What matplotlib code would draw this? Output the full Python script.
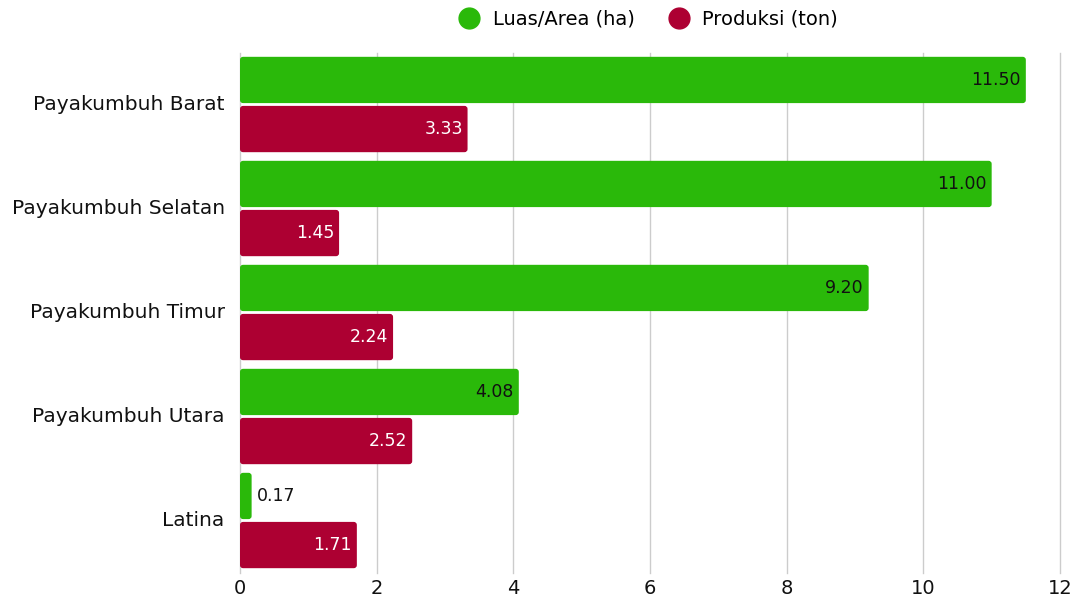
import numpy as np
import matplotlib
matplotlib.use("Agg")
import matplotlib.pyplot as plt
from matplotlib.lines import Line2D
from matplotlib.patches import FancyBboxPatch

# data
kecamatan = ["Payakumbuh Barat", "Payakumbuh Selatan", "Payakumbuh Timur",
             "Payakumbuh Utara", "Latina"]
luas = [11.50, 11.00, 9.20, 4.08, 0.17]
produksi = [3.33, 1.45, 2.24, 2.52, 1.71]
series_names = ["Luas/Area (ha)", "Produksi (ton)"]
xticks = [0, 2, 4, 6, 8, 10, 12]

green = "#2ab90a"
red = "#ad0032"

plt.rcParams["font.family"] = ["DejaVu Sans"]

fig = plt.figure(figsize=(10.73, 5.97), dpi=100)
ax = fig.add_axes([240 / 1073, 1 - 572.5 / 597, 820 / 1073, 520 / 597])

y = np.arange(len(kecamatan))
h = 0.445
off = 0.236

b1 = ax.barh(y - off, luas, height=h, color=green, zorder=3)
b2 = ax.barh(y + off, produksi, height=h, color=red, zorder=3)

# swap the square bars for slightly rounded ones
for bars, c in ((b1, green), (b2, red)):
    for bar in bars:
        bar.set_visible(False)
        ax.add_patch(FancyBboxPatch((bar.get_x(), bar.get_y()), bar.get_width(), bar.get_height(),
                                    boxstyle="round,pad=0,rounding_size=0.045",
                                    mutation_aspect=0.65, color=c, lw=0, zorder=3))

for bar, v in zip(b1, luas):
    if v > 1:
        ax.text(v - 0.07, bar.get_y() + bar.get_height() / 2, f"{v:.2f}",
                ha="right", va="center", fontsize=12.5, color="#111111", zorder=4)
    else:
        ax.text(v + 0.07, bar.get_y() + bar.get_height() / 2, f"{v:.2f}",
                ha="left", va="center", fontsize=12.5, color="#111111", zorder=4)
for bar, v in zip(b2, produksi):
    ax.text(v - 0.07, bar.get_y() + bar.get_height() / 2, f"{v:.2f}",
            ha="right", va="center", fontsize=12.5, color="white", zorder=4)

ax.set_xlim(0, 12)
ax.set_ylim(4.5, -0.5)
ax.set_xticks(xticks)
ax.set_yticks(y - 0.02)
ax.set_yticklabels(kecamatan)
ax.tick_params(axis="both", length=0, colors="#111111")
ax.tick_params(axis="y", pad=11, labelsize=14.5)
ax.tick_params(axis="x", pad=5, labelsize=14)
ax.grid(axis="x", color="#cccccc", linewidth=1, zorder=0)
for gl in ax.get_xgridlines():
    gl.set_clip_on(False)
for s in ax.spines.values():
    s.set_visible(False)

handles = [Line2D([], [], marker="o", linestyle="", markersize=15, color=c)
           for c in (green, red)]
fig.legend(handles, series_names, loc="center", bbox_to_anchor=(644 / 1073, 1 - 19 / 597),
           ncol=2, frameon=False, fontsize=14, handletextpad=0.2, columnspacing=1.3)

fig.savefig("out.png", dpi=100)
